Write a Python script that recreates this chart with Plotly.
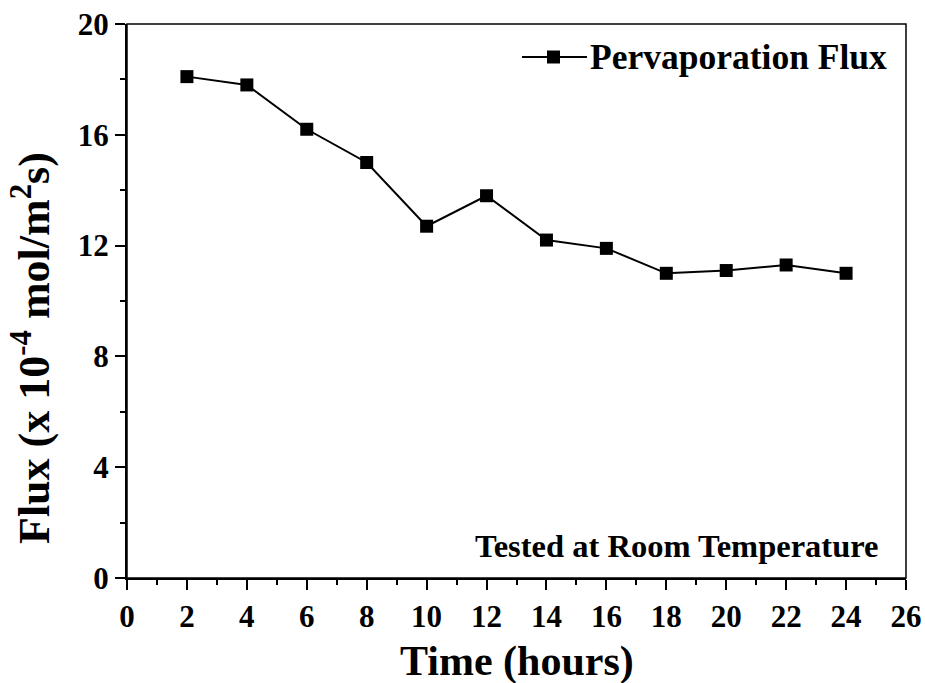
import plotly.graph_objects as go

# Pervaporation flux measured over a 24 h run
time_h = [2, 4, 6, 8, 10, 12, 14, 16, 18, 20, 22, 24]
flux = [18.1, 17.8, 16.2, 15.0, 12.7, 13.8, 12.2, 11.9, 11.0, 11.1, 11.3, 11.0]
series_name = "Pervaporation Flux"
x_title = "Time (hours)"
y_title = "Flux (x 10<sup>-4</sup> mol/m<sup>2</sup>s)"
note = "Tested at Room Temperature"

FONT = "Liberation Serif"
W, H = 925, 683
L, R, T, B = 127, 19, 24, 105
PW, PH = W - L - R, H - T - B


def px_x(p):
    return (p - L) / PW


def px_y(p):
    return (H - B - p) / PH


fig = go.Figure()
fig.add_trace(go.Scatter(
    x=time_h, y=flux, mode="lines+markers", name=series_name,
    line=dict(color="black", width=2),
    marker=dict(symbol="square", size=13, color="black"),
    showlegend=False,
))

axis_common = dict(
    showgrid=False, zeroline=False, showline=True, linecolor="black", linewidth=2,
    ticks="outside", ticklen=10, tickwidth=2, tickcolor="black", automargin=False,
    tickfont=dict(family=FONT, size=31, color="black", weight="bold"),
)
fig.update_xaxes(range=[0, 26], tick0=0, dtick=2,
                 minor=dict(ticks="outside", ticklen=5, tickwidth=2, dtick=1, tickcolor="black"),
                 **axis_common)
fig.update_yaxes(range=[0, 20], tick0=0, dtick=4,
                 minor=dict(ticks="outside", ticklen=5, tickwidth=2, dtick=2, tickcolor="black"),
                 **axis_common)

# frame on top and right
fig.add_shape(type="rect", xref="paper", yref="paper", x0=0, y0=0, x1=1, y1=1,
              line=dict(color="black", width=1.5), layer="above")

# legend key: line with square marker
ly = px_y(57)
fig.add_shape(type="line", xref="paper", yref="paper", x0=px_x(522), x1=px_x(587), y0=ly, y1=ly,
              line=dict(color="black", width=2))
fig.add_shape(type="rect", xref="paper", yref="paper", x0=px_x(547), x1=px_x(560),
              y0=px_y(63.5), y1=px_y(50.5), fillcolor="black", line=dict(width=0))

annos = [
    dict(text=series_name, x=px_x(588), y=ly, xanchor="left", yanchor="middle",
         font=dict(size=35.5, family=FONT, color="black", weight="bold")),
    dict(text=note, x=px_x(881), y=px_y(546), xanchor="right", yanchor="middle",
         font=dict(size=32.5, family=FONT, color="black", weight="bold")),
    dict(text=x_title, x=0.5, y=px_y(661), xanchor="center", yanchor="middle",
         font=dict(size=42, family=FONT, color="black", weight="bold")),
    dict(text=y_title, x=px_x(31), y=px_y(348), xanchor="center", yanchor="middle", textangle=-90,
         font=dict(size=44, family=FONT, color="black", weight="bold")),
]
for a in annos:
    fig.add_annotation(xref="paper", yref="paper", showarrow=False, **a)

fig.update_layout(
    width=W, height=H, margin=dict(l=L, r=R, t=T, b=B),
    paper_bgcolor="white", plot_bgcolor="white",
    font=dict(family=FONT, color="black"),
)

fig.write_html("out.html")
